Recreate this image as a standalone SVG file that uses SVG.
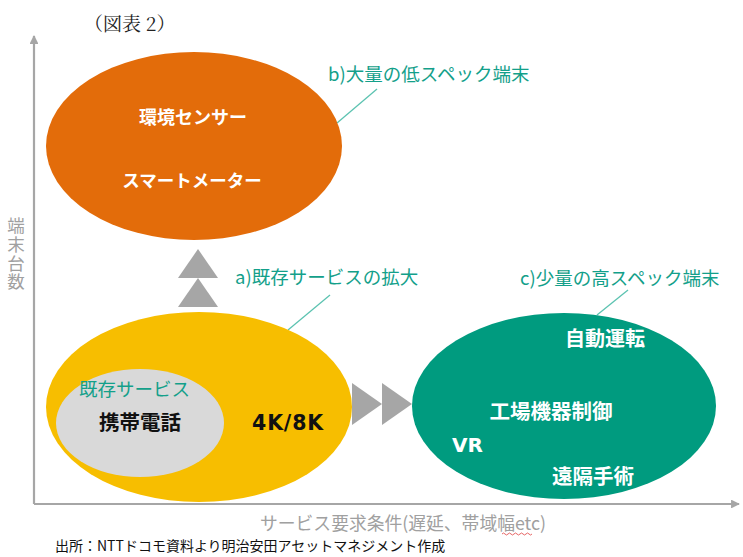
<svg xmlns="http://www.w3.org/2000/svg" width="743" height="557" viewBox="0 0 743 557">
<style>
.ax{stroke:#a6a6a6;stroke-width:2.2;fill:none}
.tri{fill:#a6a6a6}
.lead{stroke:#5cc3b1;stroke-width:1.3;fill:none}
.lbl{font-family:"Noto Sans CJK JP","Noto Sans",sans-serif;font-size:18.5px;fill:#13a08a}
.wt{font-family:"Noto Sans CJK JP","Liberation Sans",sans-serif;font-weight:bold;fill:#ffffff}
.bk{font-family:"Noto Sans CJK JP","Liberation Sans",sans-serif;font-weight:bold;fill:#111111}
.lat{font-family:"DejaVu Sans","Liberation Sans",sans-serif;font-weight:bold}
.gr{font-family:"Noto Sans CJK JP","Noto Sans",sans-serif;fill:#a0a0a0}
</style>
<defs>
<marker id="ah" viewBox="0 0 10 10" refX="9" refY="5" markerWidth="4" markerHeight="4" orient="auto" markerUnits="strokeWidth">
<path d="M0,0 L10,5 L0,10 Z" fill="#a6a6a6"/>
</marker>
</defs>
<rect width="743" height="557" fill="#ffffff"/>
<text x="84" y="31" font-family="Noto Serif CJK JP,Noto Sans CJK JP,serif" font-size="19" fill="#222">（図表 2）</text>
<g id="axes">
<path class="ax" d="M34,504 V36" marker-end="url(#ah)"/>
<path class="ax" d="M34,504 H739" marker-end="url(#ah)"/>
</g>
<text class="gr" x="16" y="217" font-size="17.5" style="writing-mode:vertical-rl;letter-spacing:1.2px">端末台数</text>
<text class="gr" x="260" y="530" font-size="17.8">サービス要求条件(遅延、帯域幅etc)</text>
<path d="M502,534 q1.5,-2 3,0 t3,0 t3,0 t3,0 t3,0 t3,0 t3,0 t3,0 t3,0 t3,0" stroke="#e04040" stroke-width="0.8" fill="none"/>
<text x="55" y="551" font-family="Noto Sans CJK JP,Noto Sans,sans-serif" font-size="14" fill="#111">出所：NTTドコモ資料より明治安田アセットマネジメント作成</text>
<g id="connectors">
<path class="lead" d="M377,89 L337,123"/>
<path class="lead" d="M330,295 L288,330"/>
<path class="lead" d="M628,290 L597,315"/>
<polygon class="tri" points="198,249 218,278 178,278"/>
<polygon class="tri" points="198,278 218,307 178,307"/>
<polygon class="tri" points="352,383 382,404 352,425"/>
<polygon class="tri" points="382,383 412,404 382,425"/>
</g>
<g id="node-b">
<ellipse cx="194" cy="146" rx="148" ry="94" fill="#e36c0a"/>
<text class="wt" x="193" y="124" font-size="18" text-anchor="middle">環境センサー</text>
<text class="wt" x="192" y="187" font-size="17.5" text-anchor="middle">スマートメーター</text>
<text class="lbl" x="328" y="81">b)大量の低スペック端末</text>
</g>
<g id="node-a">
<ellipse cx="199" cy="407" rx="153" ry="95" fill="#f7be00"/>
<ellipse cx="140" cy="423" rx="84" ry="54" fill="#d9d9d9"/>
<text class="lbl" x="79" y="396" font-size="16.5">既存サービス</text>
<text class="bk" x="140" y="430" font-size="20.5" text-anchor="middle">携帯電話</text>
<text class="lat" x="288" y="430" font-size="20.5" fill="#111" text-anchor="middle" letter-spacing="0.8">4K/8K</text>
<text class="lbl" x="235" y="284">a)既存サービスの拡大</text>
</g>
<g id="node-c">
<ellipse cx="564" cy="406" rx="152" ry="93" fill="#009b7f"/>
<text class="wt" x="605" y="346" font-size="20" text-anchor="middle">自動運転</text>
<text class="wt" x="551" y="419" font-size="20.5" text-anchor="middle">工場機器制御</text>
<text class="lat" x="467.5" y="452" font-size="20" fill="#fff" text-anchor="middle">VR</text>
<text class="wt" x="593" y="484" font-size="20.5" text-anchor="middle">遠隔手術</text>
<text class="lbl" x="520" y="285">c)少量の高スペック端末</text>
</g>
</svg>
